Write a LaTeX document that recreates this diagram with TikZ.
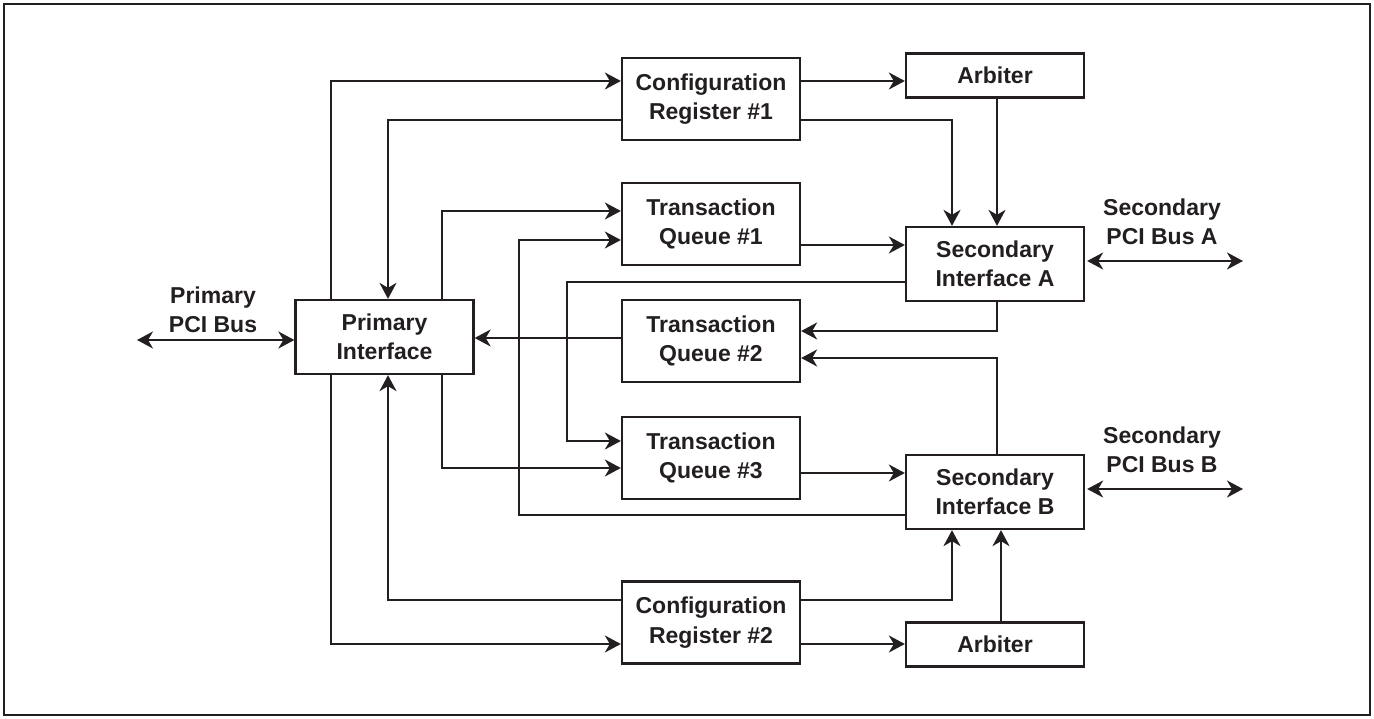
\documentclass[tikz,border=0pt]{standalone}
\usepackage{fontspec}
\setmainfont{Liberation Sans}
\usetikzlibrary{arrows.meta}
\definecolor{ink}{RGB}{35,31,32}
\begin{document}
\begin{tikzpicture}[x=1pt,y=-1pt,
  every node/.style={font=\fontsize{23}{29.5}\selectfont\bfseries, text=ink, align=center},
  blk/.style={draw=ink, line width=2.3pt, fill=white, minimum width=178pt, inner sep=0pt},
  tall/.style={blk, minimum height=82pt},
  mid/.style={blk, minimum height=74pt},
  low/.style={blk, minimum height=44pt},
  lbl/.style={inner sep=0pt},
  wire/.style={draw=ink, line width=2.3pt},
  arr/.style={wire, -{Stealth[length=16pt,width=17pt,inset=5pt]}},
  darr/.style={wire, {Stealth[length=16pt,width=17pt,inset=5pt]}-{Stealth[length=16pt,width=17pt,inset=5pt]}}
]
\useasboundingbox (0,0) rectangle (1374,719);
\draw[draw=ink, line width=1.6pt] (4,4) rectangle (1370,715);

% blocks
\node[mid]  (PI)   at (384.5,337)  {Primary\\Interface};
\node[tall] (CR1)  at (711,99)     {Configuration\\Register \#1};
\node[tall] (TQ1)  at (711,224)    {Transaction\\Queue \#1};
\node[tall] (TQ2)  at (711,341)    {Transaction\\Queue \#2};
\node[tall] (TQ3)  at (711,458)    {Transaction\\Queue \#3};
\node[tall] (CR2)  at (711,622.5)  {Configuration\\Register \#2};
\node[low]  (ARB1) at (995,75.5)   {Arbiter};
\node[mid]  (SIA)  at (995,264)    {Secondary\\Interface A};
\node[mid]  (SIB)  at (995,492)    {Secondary\\Interface B};
\node[low]  (ARB2) at (995,644.5)  {Arbiter};

% bus labels
\node[lbl] (LP) at (213,310)  {Primary\\PCI Bus};
\node[lbl] (LA) at (1162,222) {Secondary\\PCI Bus A};
\node[lbl] (LB) at (1162,450) {Secondary\\PCI Bus B};

% guide coordinates
\coordinate (vL1) at (331,0);
\coordinate (vL2) at (388,0);
\coordinate (vL3) at (442,0);
\coordinate (vL4) at (519,0);
\coordinate (vL5) at (567,0);
\coordinate (vR1) at (952,0);
\coordinate (vR2) at (997,0);
\coordinate (vR3) at (1001,0);
\coordinate (r81)  at (0,81);
\coordinate (r120) at (0,120);
\coordinate (r211) at (0,211);
\coordinate (r240) at (0,240);
\coordinate (r245) at (0,245);
\coordinate (r282) at (0,282);
\coordinate (r331) at (0,331);
\coordinate (r358) at (0,358);
\coordinate (r338) at (0,338);
\coordinate (r441) at (0,441);
\coordinate (r468) at (0,468);
\coordinate (r473) at (0,473);
\coordinate (r515) at (0,515);
\coordinate (r600) at (0,600);
\coordinate (r644) at (0,644);
\coordinate (busP) at (137,340);
\coordinate (busA) at (1243,261);
\coordinate (busB) at (1243,489);

% connectors
\draw[arr] (PI.north -| vL1) |- (CR1.west |- r81);
\draw[arr] (CR1.west |- r120) -| (PI.north -| vL2);
\draw[arr] (PI.north -| vL3) |- (TQ1.west |- r211);
\draw[arr] (SIB.west |- r515) -- (vL4 |- r515) |- (TQ1.west |- r240);
\draw[arr] (SIA.west |- r282) -- (vL5 |- r282) |- (TQ3.west |- r441);
\draw[arr] (TQ1.east |- r245) -- (SIA.west |- r245);
\draw[arr] (CR1.east |- r81) -- (ARB1.west |- r81);
\draw[arr] (CR1.east |- r120) -| (SIA.north -| vR1);
\draw[arr] (ARB1.south -| vR2) -- (SIA.north -| vR2);
\draw[arr] (SIA.south -| vR2) |- (TQ2.east |- r331);
\draw[arr] (SIB.north -| vR2) |- (TQ2.east |- r358);
\draw[arr] (TQ2.west |- r338) -- (PI.east |- r338);
\draw[arr] (PI.south -| vL3) |- (TQ3.west |- r468);
\draw[arr] (TQ3.east |- r473) -- (SIB.west |- r473);
\draw[arr] (CR2.west |- r600) -| (PI.south -| vL2);
\draw[arr] (PI.south -| vL1) |- (CR2.west |- r644);
\draw[arr] (CR2.east |- r600) -| (SIB.south -| vR1);
\draw[arr] (ARB2.north -| vR3) -- (SIB.south -| vR3);
\draw[arr] (CR2.east |- r644) -- (ARB2.west |- r644);
\draw[darr] (busP) -- (PI.west |- busP);
\draw[darr, shorten <=2pt] (SIA.east |- busA) -- (busA);
\draw[darr, shorten <=2pt] (SIB.east |- busB) -- (busB);
\end{tikzpicture}
\end{document}
